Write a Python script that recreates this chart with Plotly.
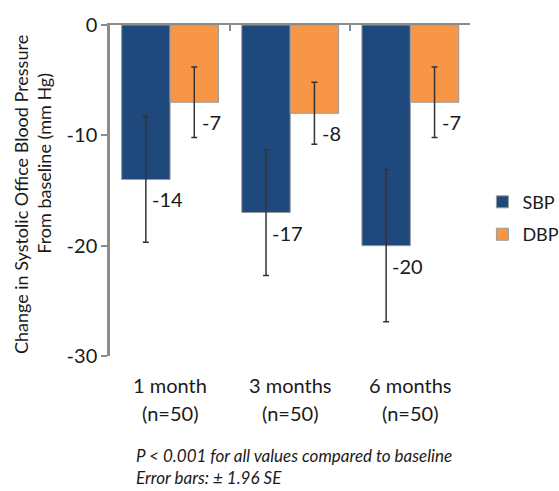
import plotly.graph_objects as go

# Change from baseline in office blood pressure (mm Hg)
categories = ["1 month", "3 months", "6 months"]
n_patients = [50, 50, 50]
sbp_change = [-14, -17, -20]
sbp_ci = [5.7, 5.7, 6.9]          # ± 1.96 SE
dbp_change = [-7, -8, -7]
dbp_ci = [3.2, 2.8, 3.2]          # ± 1.96 SE

y_ticks = [0, -10, -20, -30]
footnotes = ["P < 0.001 for all values compared to baseline", "Error bars: ± 1.96 SE"]

FONT = "Lato"
TEXT = "#1a1a1a"
AXIS_GREY = "#8c8c8c"
SBP_COLOR = "#1F497D"
DBP_COLOR = "#F79646"
ERR_COLOR = "#333333"


def err(vals):
    return dict(type="data", array=vals, visible=True, color=ERR_COLOR,
                thickness=1.5, width=3)


fig = go.Figure()
fig.add_trace(go.Bar(
    name="SBP", x=categories, y=sbp_change, marker_color=SBP_COLOR,
    marker_line=dict(color="#9a9a9a", width=1), error_y=err(sbp_ci),
    legendgroup="sbp",
))
fig.add_trace(go.Bar(
    name="DBP", x=categories, y=dbp_change, marker_color=DBP_COLOR,
    marker_line=dict(color="#9a9a9a", width=1), error_y=err(dbp_ci),
    legendgroup="dbp",
))

annotations = []
# value labels sit just right of each error bar, below the bar end
for vals, shift in ((sbp_change, -25), (dbp_change, 25)):
    for cat, v in zip(categories, vals):
        annotations.append(dict(
            x=cat, y=v, xref="x", yref="y", text=f"{v}", showarrow=False,
            xanchor="left", yanchor="middle", xshift=shift + 5, yshift=-20,
            font=dict(family=FONT, size=20, color=TEXT),
        ))

# category labels below the plot area
for cat, n in zip(categories, n_patients):
    annotations.append(dict(
        x=cat, y=0, xref="x", yref="paper", text=cat, showarrow=False,
        yanchor="middle", yshift=-29, font=dict(family=FONT, size=20, color=TEXT),
    ))
    annotations.append(dict(
        x=cat, y=0, xref="x", yref="paper", text=f"(n={n})", showarrow=False,
        yanchor="middle", yshift=-57, font=dict(family=FONT, size=20, color=TEXT),
    ))

# y-axis title, two lines
annotations.append(dict(
    x=-0.247, y=0.489, xref="paper", yref="paper", textangle=-90,
    text="Change in Systolic Office Blood Pressure", showarrow=False,
    xanchor="center", yanchor="middle", font=dict(family=FONT, size=18, color=TEXT),
))
annotations.append(dict(
    x=-0.183, y=0.581, xref="paper", yref="paper", textangle=-90,
    text="From baseline (mm Hg)", showarrow=False,
    xanchor="center", yanchor="middle", font=dict(family=FONT, size=18, color=TEXT),
))

# footnote, anchored to the bottom edge of the figure
annotations.append(dict(
    x=0.07, y=0, xref="paper", yref="paper", showarrow=False,
    xanchor="left", yanchor="bottom", yshift=-133, align="left", borderpad=0,
    text="<br>".join(f"<i>{line}</i>" for line in footnotes),
    font=dict(family=FONT, size=17, color=TEXT),
))

fig.update_layout(
    width=559, height=491,
    margin=dict(l=110, r=77, t=22, b=134.5),
    paper_bgcolor="white", plot_bgcolor="white",
    barmode="group", bargap=0.194, bargroupgap=0,
    font=dict(family=FONT, size=18, color=TEXT),
    showlegend=True,
    legend=dict(
        xref="container", yref="container",
        x=0.863, y=0.626, xanchor="left", yanchor="top",
        font=dict(family=FONT, size=18, color=TEXT),
        tracegroupgap=6, traceorder="grouped", bgcolor="rgba(0,0,0,0)",
    ),
    annotations=annotations,
)

fig.update_xaxes(
    side="top", showline=True, linecolor=AXIS_GREY, linewidth=2,
    ticks="inside", ticklen=6, tickwidth=2, tickcolor=AXIS_GREY,
    tickson="boundaries", showticklabels=False, showgrid=False, zeroline=False,
)
fig.update_yaxes(
    range=[-30, 0], tickvals=y_ticks, ticktext=[str(t) for t in y_ticks],
    showline=True, linecolor=AXIS_GREY, linewidth=2.5,
    ticks="outside", ticklen=6, tickwidth=2, tickcolor=AXIS_GREY,
    showgrid=False, zeroline=False,
    tickfont=dict(family=FONT, size=20, color=TEXT),
)

fig.write_html("out.html")
